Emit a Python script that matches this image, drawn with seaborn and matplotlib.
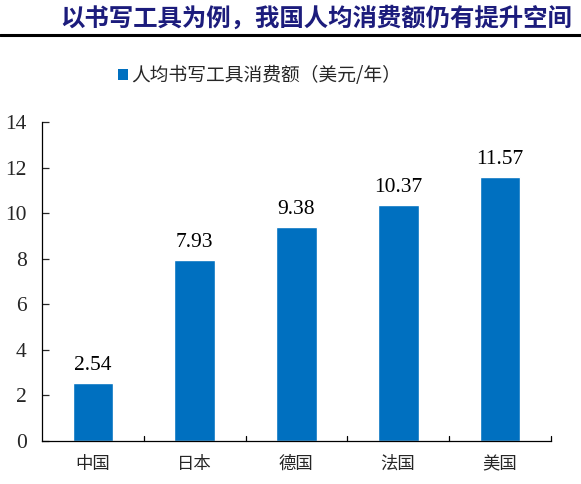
import matplotlib
matplotlib.use('Agg')
import matplotlib.pyplot as plt
import seaborn as sns
import pandas as pd
from matplotlib.lines import Line2D
from matplotlib.patches import Patch

countries = ['中国', '日本', '德国', '法国', '美国']
spend = [2.54, 7.93, 9.38, 10.37, 11.57]
series_name = '人均书写工具消费额（美元/年）'
title = '以书写工具为例，我国人均消费额仍有提升空间'

sns.set_style('white')
plt.rcParams['font.family'] = ['Liberation Serif', 'Noto Sans CJK SC']

df = pd.DataFrame({'country': countries, 'spend': spend})

fig = plt.figure(figsize=(5.81, 4.84), dpi=100)
ax = fig.add_axes([0.0723, 0.0888, 0.8757, 0.6592])

sns.barplot(data=df, x='country', y='spend', color='#0070C0', width=0.4,
            saturation=1, ax=ax)

ax.set_ylim(0, 14)
ax.set_xlim(-0.5, len(countries) - 0.5)
ax.set_yticks(range(0, 15, 2))
ax.set_xlabel('')
ax.set_ylabel('')

# value labels
for i, v in enumerate(spend):
    ax.text(i, v + 0.35, f'{v:.2f}', ha='center', va='bottom',
            fontsize=15.5, family='Liberation Serif', color='black')

# spines
for s in ['top', 'right']:
    ax.spines[s].set_visible(False)
for s in ['left', 'bottom']:
    ax.spines[s].set_color('black')
    ax.spines[s].set_linewidth(0.9)

ax.tick_params(axis='y', direction='in', length=5, width=0.9, left=True,
               labelsize=15.5, pad=11)
for lab in ax.get_yticklabels():
    lab.set_family('Liberation Serif')

# category ticks between bars
ax.set_xticks(range(len(countries)))
ax.set_xticklabels(countries, fontsize=12.5, family='Noto Sans CJK SC')
ax.tick_params(axis='x', length=0, pad=10)
for b in range(1, len(countries) + 1):
    ax.add_line(Line2D([b - 0.5, b - 0.5], [0, 0.2], color='black', lw=0.9,
                       clip_on=False))

# legend
handle = Patch(facecolor='#0070C0', edgecolor='none')
fig.legend([handle], [series_name], loc='center', bbox_to_anchor=(0.447, 0.843),
           frameon=False, prop={'family': 'Noto Sans CJK SC', 'size': 13.5},
           handlelength=0.5, handleheight=0.5, handletextpad=0.2)

# title and rule
fig.text(0.985, 0.962, title, ha='right', va='center', fontsize=17.6,
         fontweight='bold', color='#1c1c7c', family='Noto Sans CJK SC')
fig.add_artist(Line2D([0.0, 1.0], [0.927, 0.927], color='black', lw=2.2,
                      transform=fig.transFigure))

fig.savefig('out.png', dpi=100)
